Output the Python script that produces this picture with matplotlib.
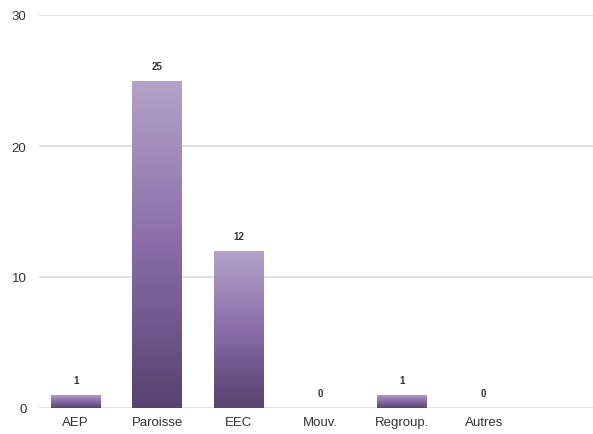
import numpy as np
import matplotlib.pyplot as plt
from matplotlib.colors import LinearSegmentedColormap

categories = ['AEP', 'Paroisse', 'EEC', 'Mouv.', 'Regroup.', 'Autres']
values = [1, 25, 12, 0, 1, 0]
yticks = [0, 10, 20, 30]

plt.rcParams['font.family'] = ['Liberation Sans', 'DejaVu Sans']

fig = plt.figure(figsize=(5.93, 4.35), dpi=100)
ax = fig.add_axes([39 / 593, 26 / 435, 1 - 39 / 593, (409 - 16) / 435])

# degradé violet, clair en haut, foncé en bas
cmap = LinearSegmentedColormap.from_list('violet', ['#574270', '#8a6da8', '#b4a3c9'])
grad = np.linspace(0, 1, 256).reshape(-1, 1)

x = np.arange(len(categories))
width = 0.61
bars = ax.bar(x, values, width, color='none', edgecolor='none', zorder=3)
for b, v in zip(bars, values):
    if v <= 0:
        continue
    x0 = b.get_x()
    im = ax.imshow(grad, cmap=cmap, origin='lower', aspect='auto',
                   extent=(x0, x0 + b.get_width(), 0, v), zorder=3)
    im.set_clip_path(b)

for xi, v in zip(x, values):
    ax.annotate(str(v), (xi, v), xytext=(0, 7), textcoords='offset points',
                ha='center', va='bottom', fontsize=7, fontweight='bold', color='#333333')

ax.set_xlim(-0.45, 6.34)
ax.set_ylim(0, 30)
ax.set_yticks(yticks)
ax.set_xticks(x)
ax.set_xticklabels(categories)
ax.grid(axis='y', color='#dedede', linewidth=1.3, zorder=0)
ax.set_axisbelow(True)
for s in ax.spines.values():
    s.set_visible(False)
ax.tick_params(axis='both', length=0, labelsize=9.5, colors='#333333')
ax.tick_params(axis='y', pad=9)
ax.tick_params(axis='x', pad=6)

fig.savefig('out.png', dpi=100)
